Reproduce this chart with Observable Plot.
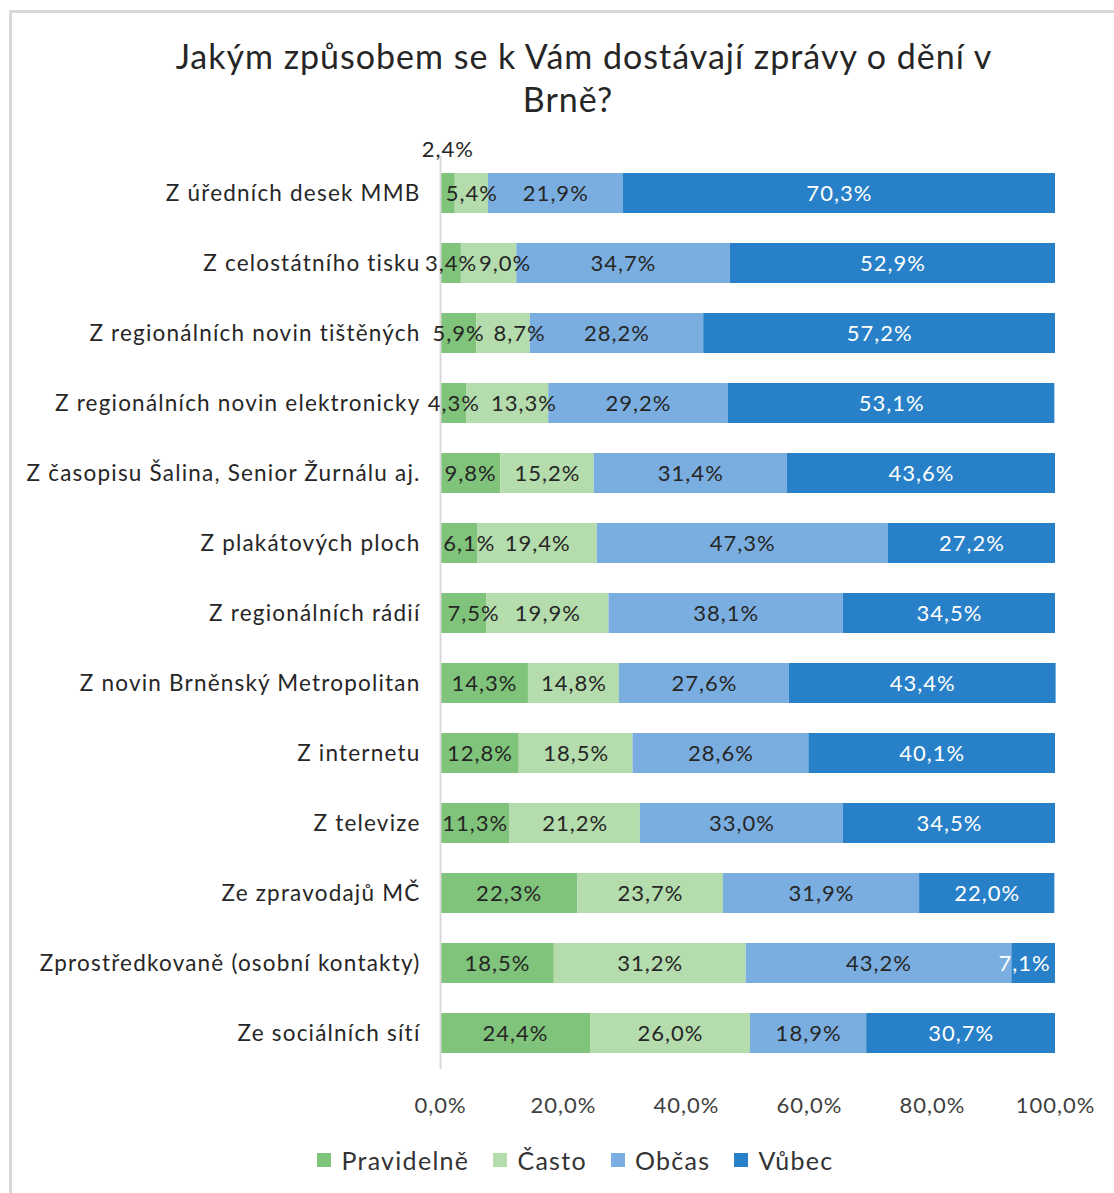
<!DOCTYPE html>
<html><head><meta charset="utf-8">
<script src="https://cdn.jsdelivr.net/npm/d3@7"></script>
<script src="https://cdn.jsdelivr.net/npm/@observablehq/plot@0.6"></script>
<style>
body{margin:0;background:#fff;}
#frame{position:absolute;left:9px;top:10px;width:1200px;height:1300px;border-left:3px solid #d9d9d9;border-top:3px solid #d9d9d9;}
#title{position:absolute;left:60px;width:1048px;top:34px;text-align:center;font-family:Lato,sans-serif;font-size:34px;letter-spacing:1px;line-height:43px;color:#262626;}
#title .l2{position:relative;left:-16px;}
#chart{position:absolute;left:0;top:130px;}
#legend{position:absolute;left:0;width:1151px;top:1145px;display:flex;justify-content:center;align-items:center;font-family:Lato,sans-serif;font-size:25px;color:#333;letter-spacing:1.3px;}
#legend .item{display:flex;align-items:center;margin:0 12px;}
#legend .sw{width:14px;height:14px;margin-right:10px;}
</style>
</head><body>
<div id="frame"></div>
<div id="title">Jakým způsobem se k Vám dostávají zprávy o dění v<br><span class="l2">Brně?</span></div>
<div id="chart"></div>
<div id="legend"></div>
<script>
const categories = [
  "Z úředních desek MMB",
  "Z celostátního tisku",
  "Z regionálních novin tištěných",
  "Z regionálních novin elektronicky",
  "Z časopisu Šalina, Senior Žurnálu aj.",
  "Z plakátových ploch",
  "Z regionálních rádií",
  "Z novin Brněnský Metropolitan",
  "Z internetu",
  "Z televize",
  "Ze zpravodajů MČ",
  "Zprostředkovaně (osobní kontakty)",
  "Ze sociálních sítí"
];
const seriesNames = ["Pravidelně", "Často", "Občas", "Vůbec"];
const colors = ["#80c37a", "#b4dcac", "#7baee0", "#2881c8"];
const pravidelne = [2.4, 3.4, 5.9, 4.3, 9.8, 6.1, 7.5, 14.3, 12.8, 11.3, 22.3, 18.5, 24.4];
const casto      = [5.4, 9.0, 8.7, 13.3, 15.2, 19.4, 19.9, 14.8, 18.5, 21.2, 23.7, 31.2, 26.0];
const obcas      = [21.9, 34.7, 28.2, 29.2, 31.4, 47.3, 38.1, 27.6, 28.6, 33.0, 31.9, 43.2, 18.9];
const vubec      = [70.3, 52.9, 57.2, 53.1, 43.6, 27.2, 34.5, 43.4, 40.1, 34.5, 22.0, 7.1, 30.7];
const xTicks = [0, 20, 40, 60, 80, 100];

const seriesValues = [pravidelne, casto, obcas, vubec];
const data = [];
seriesNames.forEach((s, si) => {
  categories.forEach((c, ci) => data.push({cat: c, ci, series: s, si, value: seriesValues[si][ci]}));
});
const fmt = v => d3.format(".1f")(v).replace(".", ",") + "%";

// label placement rules (mimicking the spreadsheet's label nudging)
const tiny = d => d.value < 3;                                   // label above the bar
const firstNudge = d => d.si === 0 && d.value >= 6 && d.value < 8; // kept inside plot
const secondNudge = d => d.si === 1 && pravidelne[d.ci] >= 3 && pravidelne[d.ci] < 6; // avoid overlap
const lastNudge = d => d.si === 3 && d.value < 10;                // kept inside plot
const plain = d => !tiny(d) && !firstNudge(d) && !secondNudge(d) && !lastNudge(d);

const labelMark = (test, opts) => Plot.text(data, Plot.stackX({
  x: "value", y: "cat", z: "series", order: null,
  text: d => test(d) ? fmt(d.value) : "",
  fill: d => d.series === "Vůbec" ? "white" : "#262626",
  fontSize: 22, ...opts
}));

const chart = Plot.plot({
  width: 1114, height: 999,
  marginLeft: 440, marginRight: 59, marginTop: 26, marginBottom: 60,
  style: {fontFamily: "Lato, sans-serif", fontSize: "21px", color: "#333", background: "transparent"},
  x: {domain: [0, 100], label: null},
  y: {domain: categories, paddingInner: 0.43, paddingOuter: 0.215, label: null},
  color: {domain: seriesNames, range: colors},
  marks: [
    Plot.barX(data, {x: "value", y: "cat", fill: "series", order: null}),
    Plot.ruleX([0], {stroke: "#d9d9d9", strokeWidth: 2}),
    Plot.axisY({tickSize: 0, tickPadding: 20, fontSize: 22.5, fill: "#262626", label: null}),
    Plot.axisX({ticks: xTicks, tickFormat: fmt, tickSize: 0, tickPadding: 28, fontSize: 22, fill: "#404040", label: null}),
    labelMark(plain, {}),
    labelMark(tiny, {dy: -44}),
    labelMark(firstNudge, {dx: 10}),
    labelMark(secondNudge, {dx: 16}),
    labelMark(lastNudge, {dx: -9})
  ]
});
chart.querySelectorAll('[aria-label="y-axis tick label"] text').forEach(t => t.setAttribute("letter-spacing", "1.2"));
chart.querySelectorAll('[aria-label="x-axis tick label"] text').forEach(t => t.setAttribute("letter-spacing", "1"));
chart.querySelectorAll('g[aria-label="text"]').forEach(g => g.setAttribute("letter-spacing", "1"));
document.getElementById("chart").appendChild(chart);

const legend = document.getElementById("legend");
seriesNames.forEach((s, i) => {
  const it = document.createElement("div");
  it.className = "item";
  it.innerHTML = `<span class="sw" style="background:${colors[i]}"></span><span>${s}</span>`;
  legend.appendChild(it);
});
</script>
</body></html>
